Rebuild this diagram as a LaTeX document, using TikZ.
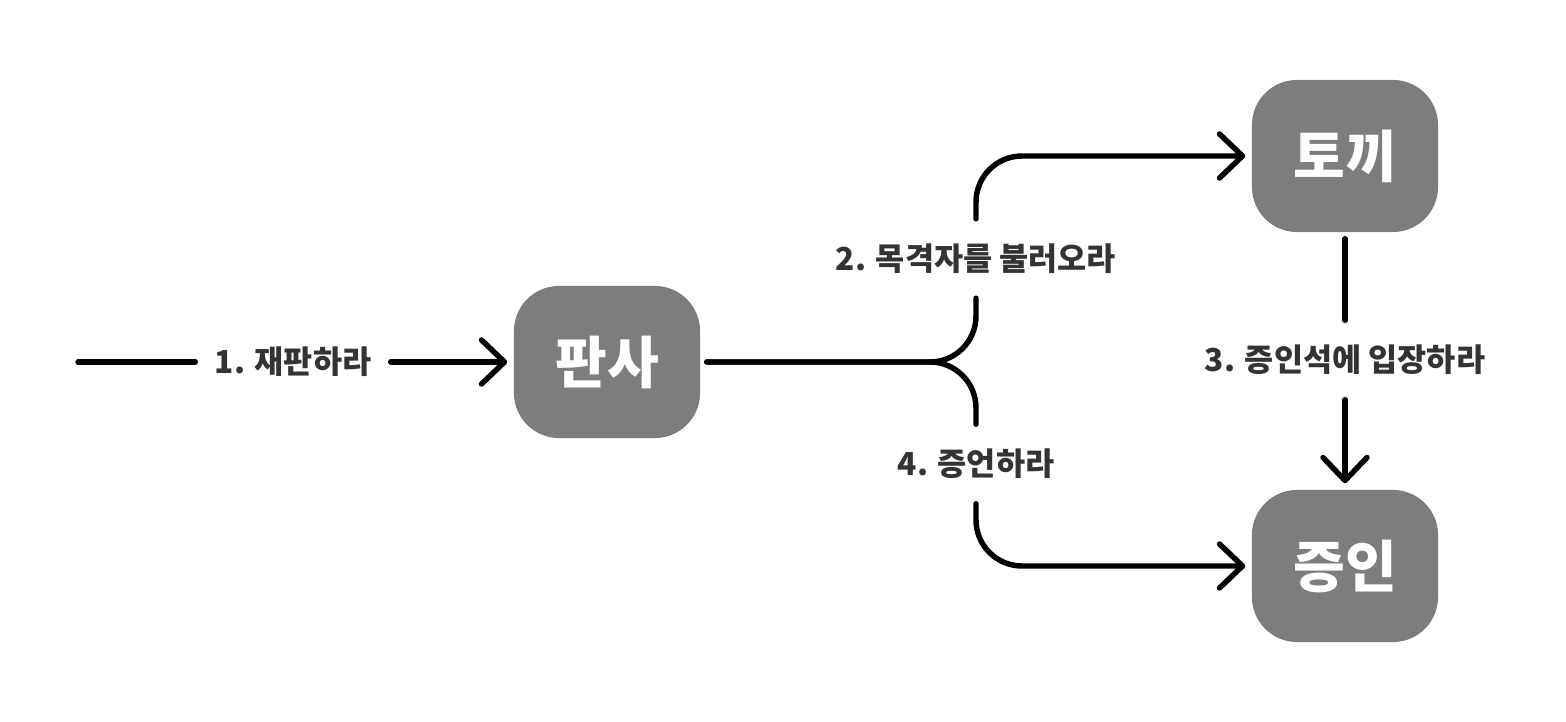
\documentclass[tikz,border=0pt]{standalone}
\usepackage{fontspec}
\setmainfont{Noto Sans CJK KR}
\usetikzlibrary{arrows.meta}
\definecolor{boxgray}{HTML}{7D7D7D}
\definecolor{textgray}{HTML}{333333}
\tikzset{
	actor/.style={fill=boxgray, rounded corners=0.45cm, minimum width=1.86cm, minimum height=1.52cm, text=white, font=\fontsize{16}{19}\selectfont\bfseries},
	order/.style={text=textgray, font=\fontsize{9}{11}\selectfont\bfseries, inner sep=0pt, minimum height=0.78cm},
	flow/.style={line width=1.55pt, line cap=round, rounded corners=0.46cm},
	>={Straight Barb[length=2.3mm,width=4.4mm,round]}
}
\begin{document}
\begin{tikzpicture}[x=0.01cm, y=-0.01cm]
		\useasboundingbox (0,0) rectangle (1566,722);
		\node[actor] (judge) at (607,362) {판사};
		\node[actor] (rabbit) at (1345,156) {토끼};
		\node[actor] (witness) at (1345,566) {증인};
		
		\coordinate (start) at (78,362);
		\node[order, minimum width=1.94cm] (l1) at (293,362) {1. 재판하라};
		\node[order] (l2) at (976,258.5) {2. 목격자를 불러오라};
		\node[order] (l3) at (1345,360) {3. 증인석에 입장하라};
		\node[order] (l4) at (976,464) {4. 증언하라};
		
		\draw[flow] (start) -- (l1);
		\draw[flow, ->, shorten >=0.06cm] (l1) -- (judge);
		\draw[flow, shorten <=0.06cm] (judge.east) -| (l2.south);
		\draw[flow, ->, shorten >=0.06cm] (l2.north) |- (rabbit);
		\draw[flow, shorten <=0.06cm] (rabbit) -- (l3);
		\draw[flow, ->, shorten >=0.06cm] (l3) -- (witness);
		\draw[flow, shorten <=0.06cm] (judge.east) -| (l4.north);
		\draw[flow, ->, shorten >=0.06cm] (l4.south) |- (witness);
\end{tikzpicture}
\end{document}
